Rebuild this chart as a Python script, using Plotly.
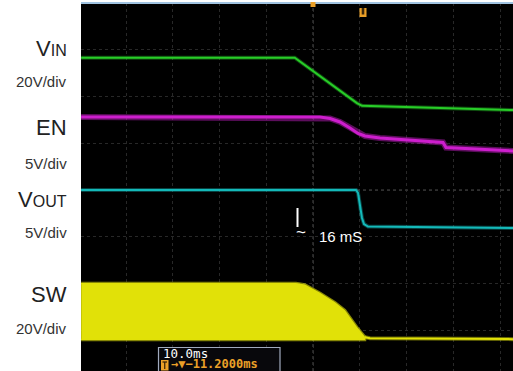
import plotly.graph_objects as go

W, H = 513, 371

# ---- data (time in ms, level in screen divisions) ----
vin_t = [-49.6, -3.9, 9.4, 10.1, 10.5, 42.8]
vin_v = [2.83, 2.83, 1.86, 1.82, 1.80, 1.71]

en_t = [-49.6, 1.5, 3.64, 5.78, 7.91, 9.63, 11.12, 14.33, 27.81, 28.45, 42.8]
en_v = [1.561, 1.561, 1.529, 1.455, 1.326, 1.209, 1.155, 1.112, 1.016, 0.909, 0.834]

vout_t = [-49.6, 9.20, 9.63, 10.05, 10.48, 10.91, 11.76, 42.8]
vout_v = [0.0, 0.0, -0.064, -0.321, -0.599, -0.727, -0.781, -0.813]

sw_t = [-49.6, -3.64, -1.71, 1.50, 4.71, 6.84, 9.41, 11.12]
sw_top = [-1.99, -1.99, -2.02, -2.20, -2.40, -2.57, -2.93, -3.14]
sw_bot = [-3.21, -3.21, -3.21, -3.21, -3.21, -3.21, -3.21, -3.21]
sw_tail_t = [11.12, 12.19, 42.8]
sw_tail_v = [-3.15, -3.17, -3.19]

labels = ["V<span style='font-size:16px'>IN</span>", "EN",
          "V<span style='font-size:16px'>OUT</span>", "SW"]
scales = ["20V/div", "5V/div", "5V/div", "20V/div"]

GREEN = "rgb(40,205,40)"
MAGENTA = "rgb(205,30,205)"
CYAN = "rgb(20,185,185)"
YELLOW = "rgb(225,225,8)"
ORANGE = "rgb(235,160,40)"


def px(x):
    return x / W


def py(y):
    return 1 - y / H


fig = go.Figure()

fig.add_trace(go.Scatter(x=vin_t, y=vin_v, mode="lines",
                         line=dict(color="rgba(40,205,40,0.35)", width=4)))
fig.add_trace(go.Scatter(x=vin_t, y=vin_v, mode="lines",
                         line=dict(color=GREEN, width=2)))
fig.add_trace(go.Scatter(x=en_t, y=en_v, mode="lines",
                         line=dict(color="rgba(205,30,205,0.45)", width=6)))
fig.add_trace(go.Scatter(x=en_t, y=en_v, mode="lines",
                         line=dict(color=MAGENTA, width=3)))
fig.add_trace(go.Scatter(x=vout_t, y=vout_v, mode="lines",
                         line=dict(color="rgba(20,185,185,0.35)", width=4)))
fig.add_trace(go.Scatter(x=vout_t, y=vout_v, mode="lines",
                         line=dict(color=CYAN, width=2)))
fig.add_trace(go.Scatter(x=sw_t + sw_t[::-1], y=sw_top + sw_bot[::-1],
                         mode="lines", fill="toself", fillcolor=YELLOW,
                         line=dict(color="rgba(225,225,8,0.6)", width=2.5)))
fig.add_trace(go.Scatter(x=sw_tail_t, y=sw_tail_v, mode="lines",
                         line=dict(color="rgba(225,225,8,0.45)", width=4)))
fig.add_trace(go.Scatter(x=sw_tail_t, y=sw_tail_v, mode="lines",
                         line=dict(color=YELLOW, width=2)))

x0 = (81 - 313) / 4.675
x1 = (513 - 313) / 4.675
y0 = (190 - 371) / 46.75
y1 = (190 - 3) / 46.75

shapes = [
    dict(type="line", xref="x", yref="y", x0=0, x1=0, y0=y0, y1=y1,
         line=dict(color="rgba(110,110,110,0.7)", width=1, dash="dot"), layer="below"),
    dict(type="line", xref="x", yref="y", x0=x0, x1=x1, y0=0, y1=0,
         line=dict(color="rgba(110,110,110,0.7)", width=1, dash="dot"), layer="below"),
    dict(type="line", xref="paper", yref="paper", x0=px(81), x1=1, y0=py(3), y1=py(3),
         line=dict(color="rgb(160,195,225)", width=2)),
    dict(type="rect", xref="paper", yref="paper", x0=px(310.5), x1=px(315.5),
         y0=py(7), y1=py(2), fillcolor=ORANGE, line=dict(width=0)),
    dict(type="rect", xref="paper", yref="paper", x0=px(359.5), x1=px(366.5),
         y0=py(17), y1=py(8), fillcolor=ORANGE, line=dict(width=0)),
    dict(type="rect", xref="paper", yref="paper", x0=px(361.7), x1=px(364.3),
         y0=py(14.5), y1=py(8), fillcolor="rgb(60,40,10)", line=dict(width=0)),
    dict(type="line", xref="paper", yref="paper", x0=px(297.5), x1=px(297.5),
         y0=py(208), y1=py(227), line=dict(color="white", width=2)),
    # time base box
    dict(type="rect", xref="paper", yref="paper", x0=px(158.5), x1=px(280),
         y0=py(376), y1=py(347.5), fillcolor="rgb(8,8,12)",
         line=dict(color="rgb(160,170,190)", width=1.2)),
    # trigger icon
    dict(type="rect", xref="paper", yref="paper", x0=px(161), x1=px(168.5),
         y0=py(370.5), y1=py(360), fillcolor=ORANGE, line=dict(width=0)),
    dict(type="line", xref="paper", yref="paper", x0=px(162.5), x1=px(167),
         y0=py(362), y1=py(362), line=dict(color="rgb(50,30,5)", width=1.2)),
    dict(type="line", xref="paper", yref="paper", x0=px(164.75), x1=px(164.75),
         y0=py(362), y1=py(369), line=dict(color="rgb(50,30,5)", width=1.2)),
]

annotations = []
lab_y = [48, 126, 198, 293]
sc_y = [80, 162, 232, 327]
for t, yy in zip(labels, lab_y):
    annotations.append(dict(text=t, x=px(69), y=py(yy + 1), xref="paper", yref="paper",
                            xanchor="right", yanchor="middle", showarrow=False,
                            font=dict(family="Liberation Sans, Arial", size=22, color="#222")))
for t, yy in zip(scales, sc_y):
    annotations.append(dict(text=t, x=px(69), y=py(yy + 1), xref="paper", yref="paper",
                            xanchor="right", yanchor="middle", showarrow=False,
                            font=dict(family="Liberation Sans, Arial", size=15, color="#333")))

annotations += [
    dict(text="~", x=px(294), y=py(233), xref="paper", yref="paper", xanchor="left",
         yanchor="middle", showarrow=False,
         font=dict(family="Liberation Sans, Arial", size=17, color="white")),
    dict(text="16 mS", x=px(317), y=py(236), xref="paper", yref="paper", xanchor="left",
         yanchor="middle", showarrow=False,
         font=dict(family="Liberation Sans, Arial", size=15, color="white")),
    dict(text="10.0ms", x=px(161), y=py(353.5), xref="paper", yref="paper", xanchor="left",
         yanchor="middle", showarrow=False,
         font=dict(family="DejaVu Sans Mono", size=12.5, color="white")),
    dict(text="<b>→▼−11.2000ms</b>", x=px(168.5), y=py(364), xref="paper", yref="paper",
         xanchor="left", yanchor="middle", showarrow=False,
         font=dict(family="DejaVu Sans Mono", size=12, color=ORANGE)),
]

fig.update_layout(
    width=W, height=H,
    margin=dict(l=0, r=0, t=0, b=0),
    paper_bgcolor="white",
    plot_bgcolor="black",
    showlegend=False,
    shapes=shapes,
    annotations=annotations,
    xaxis=dict(domain=[px(81), 1], range=[x0, x1], tick0=0, dtick=10,
               showgrid=True, gridcolor="rgba(50,50,50,0.8)", griddash="dot",
               gridwidth=1, zeroline=False, showticklabels=False, ticks="",
               fixedrange=True),
    yaxis=dict(domain=[0, py(3)], range=[y0, y1], tick0=0, dtick=1,
               showgrid=True, gridcolor="rgba(50,50,50,0.8)", griddash="dot",
               gridwidth=1, zeroline=False, showticklabels=False, ticks="",
               fixedrange=True),
)

fig.write_html("out.html")
